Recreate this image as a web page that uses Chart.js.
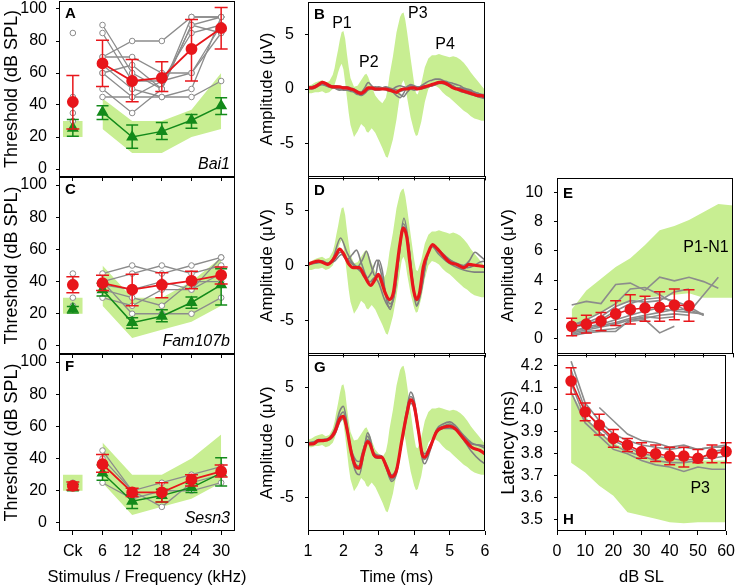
<!DOCTYPE html>
<html><head><meta charset="utf-8">
<script src="https://cdn.jsdelivr.net/npm/chart.js@4.4.1/dist/chart.umd.min.js"></script>
<style>
html,body{margin:0;padding:0;background:#fff}
body{width:742px;height:587px;position:relative;overflow:hidden}
canvas{position:absolute}
</style></head><body>
<canvas id="pA"></canvas><canvas id="pC"></canvas><canvas id="pF"></canvas>
<canvas id="pB"></canvas><canvas id="pD"></canvas><canvas id="pG"></canvas>
<canvas id="pE"></canvas><canvas id="pH"></canvas>
<script>
// ================= DATA =================
// ---- Left column: thresholds (dB SPL) ----
const stimPos = [0, 6, 12, 18, 24, 30];
const stimLabels = ['Ck', '6', '12', '18', '24', '30'];
const toneKHz = [6, 12, 18, 24, 30];
const thrTicks = [0, 20, 40, 60, 80, 100];

// A  Bai1
const bai1NormHi = [44, 30, 30, 37, 60];
const bai1NormLo = [25, 10, 10, 20, 25];
const bai1NormCk = [20, 30];
const bai1MutCk = [85, 45, 40, 35, 30];
const bai1Mut = [
  [70, 80, 80, 95, 95],
  [90, 60, 50, 90, 95],
  [85, 55, 55, 60, 90],
  [70, 70, 60, 60, 85],
  [65, 50, 45, 50, 95],
  [60, 45, 55, 85, 90],
  [50, 35, 50, 95, 95],
  [45, 45, 45, 45, 55],
  [60, 65, 50, 90, 85]
];
const bai1MutMean = [42, 66, 55, 57, 75, 88];
const bai1MutHi = [58.5, 80.5, 68.5, 67, 93.5, 101];
const bai1MutLo = [25, 51.5, 42, 48.5, 55, 75];
const bai1CtlMean = [25.5, 35.5, 20, 23.5, 30.5, 39.5];
const bai1CtlHi = [31, 39.5, 27.5, 29, 34, 44.5];
const bai1CtlLo = [20.5, 31, 13, 18.5, 25.5, 34];

// C  Fam107b
const famNormHi = [50, 30, 30, 40, 55];
const famNormLo = [25, 5, 10, 15, 25];
const famNormCk = [20, 30];
const famMutCk = [45, 40, 30, 25];
const famMut = [
  [45, 50, 45, 50, 55],
  [40, 45, 50, 45, 50],
  [38, 35, 40, 35, 45],
  [35, 30, 25, 40, 40],
  [30, 25, 35, 35, 55],
  [40, 20, 20, 20, 30]
];
const famMutMean = [38, 39, 35, 38, 40.5, 44];
const famMutHi = [43, 44, 44.5, 45.5, 46.5, 49];
const famMutLo = [33, 34.5, 25, 30, 35.5, 38.5];
const famCtlMean = [23, 35, 14.5, 18.5, 27, 38];
const famCtlHi = [24.5, 39, 17.5, 22.5, 30.5, 48];
const famCtlLo = [20.5, 31, 11, 15, 23.5, 25.5];

// F  Sesn3
const sesNormHi = [50, 30, 30, 40, 55];
const sesNormLo = [25, 5, 10, 15, 25];
const sesNormCk = [20, 30];
const sesMutCk = [25, 22];
const sesMut = [
  [45, 20, 25, 30, 35],
  [40, 20, 10, 25, 30],
  [25, 15, 20, 20, 25]
];
const sesMutMean = [23, 36.5, 19, 19, 27, 32];
const sesMutHi = [25.5, 42.5, 21.5, 25, 30, 36];
const sesMutLo = [20.5, 31.5, 16.5, 13, 23, 28.5];
const sesCtlMean = [22, 31, 13.5, 17, 22, 31];
const sesCtlHi = [24, 36, 17.5, 21, 24.5, 40.5];
const sesCtlLo = [20, 26.5, 9, 13, 19, 23];

// ---- Middle column: ABR waveforms (uV vs ms) ----
const timeTicks = [1, 2, 3, 4, 5, 6];
const ampTicks = [-5, 0, 5];
const bandT = [1.0,1.1,1.2,1.3,1.4,1.5,1.6,1.7,1.75,1.8,1.85,1.9,1.95,2.0,2.05,2.1,2.15,2.2,2.3,2.4,2.5,2.6,2.65,2.7,2.8,2.9,3.0,3.1,3.2,3.25,3.3,3.4,3.5,3.6,3.65,3.7,3.75,3.8,3.9,4.0,4.05,4.1,4.2,4.3,4.4,4.5,4.6,4.7,4.8,4.9,5.0,5.1,5.2,5.3,5.4,5.5,5.6,5.7,5.8,5.9,6.0];
const bandHi = [0.3,0.4,0.6,0.7,0.8,0.6,0.7,1.3,1.9,2.8,3.6,4.5,5.2,5.3,4.6,3.2,2.0,1.0,0.2,0.3,0.8,1.3,1.4,1.1,0.2,-0.6,-1.0,-1.3,-0.8,0.0,1.2,3.0,5.2,6.6,6.9,7.0,6.3,5.2,2.8,0.5,-0.4,-0.5,0.5,2.0,2.8,3.1,3.1,3.2,3.1,3.0,2.9,3.0,2.9,2.7,2.4,2.0,1.5,1.1,0.7,0.3,-0.1];
const bandLo = [-0.4,-0.4,-0.3,-0.3,-0.2,-0.4,-0.3,0.0,0.4,0.9,1.5,2.0,2.3,1.8,0.6,-0.8,-2.2,-3.3,-4.4,-3.9,-3.2,-3.5,-3.9,-4.0,-3.6,-4.0,-4.7,-5.4,-6.2,-6.3,-5.8,-4.6,-2.8,-0.5,0.5,0.8,0.3,-0.8,-2.6,-3.9,-4.3,-4.2,-3.0,-1.2,0.0,0.4,0.3,0.1,-0.3,-0.6,-0.8,-1.1,-1.4,-1.7,-2.0,-2.2,-2.5,-2.7,-2.8,-2.9,-2.9];

// B  Bai1 waveforms
const bT = [1.0,1.1,1.2,1.3,1.4,1.5,1.6,1.7,1.8,1.9,2.0,2.1,2.2,2.3,2.4,2.5,2.6,2.7,2.8,2.9,3.0,3.1,3.2,3.3,3.4,3.5,3.6,3.7,3.8,3.9,4.0,4.1,4.2,4.3,4.4,4.5,4.6,4.7,4.8,4.9,5.0,5.1,5.2,5.3,5.4,5.5,5.6,5.7,5.8,5.9,6.0];
const bMean = [0.1,0.1,0.2,0.4,0.6,0.5,0.3,0.2,0.2,0.2,0.1,0.1,0.0,-0.1,-0.3,-0.4,-0.2,0.1,0.1,0.0,0.0,0.0,0.0,-0.1,-0.2,-0.3,-0.1,0.0,0.0,0.1,0.1,0.0,0.1,0.2,0.3,0.4,0.5,0.6,0.6,0.5,0.3,0.1,0.0,-0.1,-0.2,-0.3,-0.4,-0.5,-0.6,-0.6,-0.7];
const bInd1 = [0.2,0.2,0.3,0.5,0.6,0.4,0.3,0.2,0.0,-0.1,0.0,0.1,0.0,-0.2,-0.3,-0.3,0.1,0.6,0.3,0.0,-0.1,0.0,0.1,0.0,-0.3,-0.6,-0.8,-0.4,0.2,0.3,0.2,0.1,0.3,0.5,0.7,0.8,0.9,0.9,0.8,0.6,0.4,0.3,0.1,0.0,-0.1,-0.2,-0.4,-0.5,-0.6,-0.7,-0.8];
const bInd2 = [0.0,0.1,0.2,0.4,0.5,0.4,0.2,0.1,0.1,0.0,-0.1,-0.1,-0.2,-0.3,-0.5,-0.5,-0.3,0.0,0.1,0.2,0.1,0.0,-0.1,-0.2,0.0,0.2,0.3,0.2,0.1,0.0,-0.1,0.0,0.1,0.1,0.2,0.3,0.4,0.5,0.5,0.6,0.6,0.5,0.4,0.3,0.1,0.0,-0.1,-0.3,-0.4,-0.5,-0.6];
const bInd3 = [0.1,0.0,0.1,0.3,0.4,0.3,0.2,0.3,0.3,0.2,0.1,0.0,-0.1,-0.2,-0.4,-0.6,-0.4,-0.1,0.0,0.1,0.2,0.1,0.0,0.0,-0.1,-0.3,-0.5,-0.7,-0.3,0.0,0.1,0.0,0.0,0.1,0.2,0.3,0.4,0.6,0.7,0.7,0.5,0.2,0.0,-0.2,-0.3,-0.4,-0.5,-0.6,-0.7,-0.8,-0.9];
const bInd4 = [0.1,0.2,0.3,0.4,0.5,0.5,0.4,0.2,0.1,0.1,0.2,0.2,0.1,0.0,-0.2,-0.3,-0.2,0.0,0.0,-0.1,-0.1,0.1,0.2,0.1,0.0,-0.1,-0.2,-0.1,0.2,0.4,0.3,0.2,0.2,0.3,0.3,0.4,0.5,0.6,0.5,0.4,0.3,0.2,0.1,0.1,0.0,-0.1,-0.2,-0.3,-0.4,-0.5,-0.5];

// D  Fam107b waveforms
const dT = [1.0,1.15,1.3,1.4,1.55,1.7,1.8,1.89,2.0,2.14,2.28,2.45,2.6,2.77,2.89,2.99,3.08,3.18,3.3,3.41,3.5,3.6,3.69,3.79,3.88,3.98,4.07,4.15,4.26,4.4,4.52,4.63,4.82,5.0,5.2,5.4,5.55,5.75,6.0];
const dMean = [0.1,0.3,0.4,0.3,0.1,0.5,1.0,1.5,1.1,0.2,-0.2,-0.2,-1.0,-1.8,-1.3,-0.8,-1.5,-2.5,-3.1,-2.5,-0.4,2.0,3.4,2.6,0.2,-2.2,-3.1,-2.5,-0.1,1.2,1.9,1.6,0.9,0.3,0.1,-0.2,0.1,0.0,-0.1];
const dInd1T = [1.0,1.2,1.4,1.55,1.7,1.92,2.1,2.25,2.4,2.55,2.65,2.78,2.9,3.0,3.1,3.2,3.32,3.45,3.58,3.71,3.85,3.95,4.07,4.2,4.35,4.52,4.7,4.85,5.0,5.2,5.4,5.55,5.72,5.85,6.0];
const dInd1 = [0.2,0.3,0.4,0.2,0.6,2.5,1.2,0.3,-0.1,0.6,1.3,0.0,-1.0,0.5,-0.5,-2.8,-4.0,-2.2,1.5,4.3,1.8,-1.2,-3.6,-2.2,0.6,1.9,1.3,0.8,0.5,0.2,0.0,0.4,1.2,0.9,0.5];
const dInd2T = [1.0,1.2,1.4,1.6,1.75,1.95,2.1,2.25,2.37,2.5,2.62,2.75,2.88,3.0,3.15,3.3,3.45,3.58,3.7,3.85,3.95,4.07,4.2,4.35,4.5,4.7,4.9,5.1,5.3,5.5,5.7,5.85,6.0];
const dInd2 = [0.1,0.2,0.3,0.2,0.4,1.0,0.5,1.0,1.4,0.3,-0.8,-1.5,-1.1,-1.6,-3.0,-3.8,-2.5,1.2,3.8,1.6,-1.6,-3.7,-2.3,0.5,1.7,1.0,0.4,0.0,-0.3,-0.5,-0.6,-0.6,-0.6];
const dInd3T = [1.0,1.2,1.4,1.55,1.7,1.92,2.1,2.3,2.5,2.65,2.8,2.95,3.05,3.2,3.32,3.45,3.58,3.7,3.85,3.95,4.07,4.2,4.35,4.52,4.7,4.9,5.1,5.3,5.5,5.7,5.85,6.0];
const dInd3 = [0.2,0.3,0.4,0.2,0.4,1.2,0.6,0.0,-0.6,-1.2,-0.6,0.5,-0.5,-2.6,-3.5,-2.4,1.0,3.5,1.6,-1.3,-3.2,-2.0,0.6,1.8,1.4,0.8,0.3,0.0,-0.2,0.0,0.3,0.4];

// G  Sesn3 waveforms
const gT = [1.0,1.15,1.29,1.43,1.62,1.76,1.9,2.0,2.09,2.23,2.36,2.45,2.56,2.68,2.75,2.86,2.96,3.08,3.22,3.36,3.5,3.65,3.79,3.9,3.99,4.12,4.23,4.3,4.45,4.63,4.82,5.01,5.15,5.39,5.62,5.86,6.0];
const gMean = [-0.1,-0.1,0.2,0.2,0.4,1.0,2.2,2.4,1.4,-1.0,-2.2,-2.3,-1.0,0.1,-0.1,-1.1,-1.3,-1.3,-2.2,-3.1,-2.5,0.2,2.6,3.9,3.5,1.1,-1.1,-1.3,-0.4,1.0,1.4,1.5,1.3,0.4,-0.4,-0.7,-1.0];
const gInd1 = [0.0,0.0,0.3,0.3,0.5,1.3,2.9,3.3,2.0,-1.2,-2.7,-2.9,-1.3,0.9,0.5,-1.0,-1.2,-1.2,-2.4,-3.5,-2.8,0.3,3.0,4.6,4.0,1.3,-1.5,-1.9,-0.7,1.2,1.7,1.9,1.6,0.7,0.0,-0.3,-0.5];
const gInd2 = [-0.2,-0.1,0.1,0.2,0.3,0.9,2.4,2.8,1.6,-0.9,-2.0,-2.1,-0.8,0.6,0.2,-1.2,-1.4,-1.4,-2.3,-3.3,-2.6,0.1,2.8,4.2,3.7,1.0,-1.2,-1.5,-0.5,1.1,1.5,1.7,1.4,0.3,-0.8,-1.6,-1.9];
const gInd3 = [0.0,0.1,0.2,0.3,0.4,0.8,1.9,2.2,1.3,-0.7,-1.6,-1.7,-0.6,0.3,0.0,-0.9,-1.1,-1.2,-2.0,-2.9,-2.3,0.0,2.3,3.6,3.2,0.9,-0.8,-1.0,-0.2,0.9,1.3,1.3,1.2,0.5,-0.1,-0.2,-0.3];

// ---- Right column: input/output functions vs dB SL ----
const slX = [5, 10, 15, 20, 25, 30, 35, 40, 45, 50, 55, 60];
const slTicks = [0, 10, 20, 30, 40, 50, 60];
// E  P1-N1 amplitude (uV)
const eTicks = [0, 2, 4, 6, 8, 10];
const eNormHi = [2.0, 3.3, 4.1, 4.9, 5.5, 6.4, 7.4, 7.7, 8.1, 8.65, 9.2, 9.1];
const eNormLo = [0.8, 1.3, 1.75, 2.3, 2.5, 2.8, 2.9, 3.0, 3.1, 2.8, 2.8, 2.8];
const eInd = [
  [2.3, 2.55, 2.4, 3.7, 3.8, 3.3, 4.2, 3.95, 4.2, 3.9, 3.45],
  [0.9, 1.3, 1.8, 2.4, 3.4, 3.5, 3.0, 2.4, 1.8, 3.0, 4.2],
  [0.7, 1.0, 1.3, 1.9, 2.4, 2.7, 2.8, 2.6, 2.2, 1.6],
  [0.5, 0.8, 1.0, 1.3, 1.6, 1.9, 2.1, 1.9, 1.8, 1.7],
  [0.4, 0.6, 0.8, 1.0, 1.3, 1.4, 1.6, 1.7, 1.6],
  [0.3, 0.5, 0.6, 0.7, 1.2, 1.3, 0.4, 0.85],
  [0.5, 0.7, 0.9, 1.1, 1.4, 1.6, 1.8, 2.0, 2.0, 1.6],
  [0.2, 0.4, 0.5, 0.5, 1.3, 1.5, 1.4, 1.5],
  [1.0, 1.1, 1.5, 2.2, 2.6, 2.5, 2.6, 3.2, 3.4]
];
const eMean = [0.85, 1.0, 1.2, 1.7, 2.0, 2.1, 2.15, 2.3, 2.25];
const eHi = [1.4, 1.6, 1.8, 2.6, 3.0, 2.9, 3.2, 3.4, 3.35];
const eLo = [0.2, 0.4, 0.55, 0.9, 1.0, 1.2, 1.2, 1.3, 1.2];
// H  P3 latency (ms)
const hTicks = [3.5, 3.6, 3.7, 3.8, 3.9, 4.0, 4.1, 4.2];
const hNormHi = [4.08, 3.97, 3.9, 3.85, 3.82, 3.8, 3.79, 3.78, 3.77, 3.77, 3.77, 3.77];
const hNormLo = [3.76, 3.715, 3.655, 3.61, 3.535, 3.52, 3.505, 3.49, 3.485, 3.49, 3.49, 3.49];
const hInd = [
  [4.22, 4.03, 3.95, 3.89, 3.86, 3.84, 3.83, 3.82, 3.83, 3.82, 3.83, 3.84],
  [null, null, 4.01, 3.95, 3.89, 3.86, 3.85, 3.83, 3.84, 3.82, 3.83, 3.83],
  [4.08, 3.94, 3.88, 3.82, 3.80, 3.77, 3.75, 3.74, 3.72, 3.74, 3.73, 3.73],
  [4.18, 4.00, 3.92, 3.86, 3.83, 3.80, 3.79, 3.78, 3.77, 3.78, 3.78, 3.79],
  [4.12, 3.96, 3.90, 3.84, 3.81, 3.79, 3.77, 3.76, 3.76, 3.77, 3.81, 3.82]
];
const hMean = [4.13, 3.99, 3.93, 3.87, 3.84, 3.81, 3.80, 3.79, 3.79, 3.78, 3.80, 3.81];
const hHi = [4.19, 4.03, 3.98, 3.91, 3.87, 3.85, 3.84, 3.83, 3.83, 3.82, 3.84, 3.85];
const hLo = [4.07, 3.95, 3.885, 3.83, 3.81, 3.78, 3.765, 3.75, 3.74, 3.76, 3.76, 3.76];

// ================= STYLE / HELPERS =================
const RED = '#e8161b', GREEN = '#138a1a', GRAY = '#8c8c8c', WGRAY = '#808080', BAND = '#c8ee92';
const FONT = "'Liberation Sans', Arial, Helvetica, sans-serif";
Chart.defaults.font.family = FONT;
Chart.defaults.font.size = 16;
Chart.defaults.color = '#000';
const ckBoxX = [-2, 2];

const pts = (xs, ys) => xs.map((x, i) => ({ x, y: ys[i] }));

const framePlugin = { id: 'frame', afterDraw(c) {
  const a = c.chartArea, x = c.ctx;
  x.save(); x.strokeStyle = '#000'; x.lineWidth = 1;
  x.strokeRect(Math.round(a.left) + 0.5, Math.round(a.top) + 0.5, Math.round(a.right - a.left) - 1, Math.round(a.bottom - a.top) - 1);
  x.restore();
}};
const errPlugin = { id: 'errbars', beforeDatasetDraw(c, args) {
  const ds = c.data.datasets[args.index];
  if (!ds.errHi) return;
  const x = c.ctx, sx = c.scales.x, sy = c.scales.y, cap = ds.cap || 6;
  x.save(); x.strokeStyle = ds.borderColor; x.lineWidth = ds.errWidth || 1.5;
  ds.data.forEach((p, i) => {
    if (ds.errHi[i] == null) return;
    const px = sx.getPixelForValue(p.x), y1 = sy.getPixelForValue(ds.errHi[i]), y2 = sy.getPixelForValue(ds.errLo[i]);
    x.beginPath();
    x.moveTo(px, y1); x.lineTo(px, y2);
    x.moveTo(px - cap, y1); x.lineTo(px + cap, y1);
    x.moveTo(px - cap, y2); x.lineTo(px + cap, y2);
    x.stroke();
  });
  x.restore();
}};
const notesPlugin = { id: 'notes', afterDraw(c, args, opts) {
  const x = c.ctx, a = c.chartArea;
  (opts.items || []).forEach(n => {
    let px, py;
    if (n.corner) {
      px = n.corner[1] === 'l' ? a.left : n.corner[1] === 'r' ? a.right : (a.left + a.right) / 2;
      py = n.corner[0] === 't' ? a.top : a.bottom;
      px += n.dx; py += n.dy;
    } else {
      px = c.scales.x.getPixelForValue(n.x);
      py = c.scales.y.getPixelForValue(n.y);
    }
    x.save(); x.font = n.font || ('16px ' + FONT); x.fillStyle = '#000';
    x.textAlign = n.align || 'center'; x.textBaseline = 'middle';
    x.fillText(n.text, px, py); x.restore();
  });
}};

function bandUp(data) { return { data, fill: '+1', backgroundColor: BAND, borderColor: 'rgba(0,0,0,0)', borderWidth: 0, pointRadius: 0, tension: 0, order: 10 }; }
function bandDn(data) { return { data, fill: false, borderColor: 'rgba(0,0,0,0)', borderWidth: 0, pointRadius: 0, tension: 0, order: 10 }; }

function makeChart(id, g, datasets, sc, notes) {
  const cv = document.getElementById(id);
  const W = g.yw + (g.pr - g.pl) + g.padR, H = g.padT + (g.pb - g.pt) + g.xh;
  cv.width = W; cv.height = H; cv.style.width = W + 'px'; cv.style.height = H + 'px';
  cv.style.left = (g.pl - g.yw) + 'px'; cv.style.top = (g.pt - g.padT) + 'px';
  return new Chart(cv, {
    type: 'line', data: { datasets },
    plugins: [errPlugin, framePlugin, notesPlugin],
    options: {
      responsive: false, animation: false, devicePixelRatio: 1, events: [],
      layout: { padding: { top: g.padT, right: g.padR, left: 0, bottom: 0 } },
      plugins: { legend: { display: false }, tooltip: { enabled: false }, colors: { enabled: false }, notes: { items: notes || [] } },
      scales: {
        x: { type: 'linear', min: sc.xmin, max: sc.xmax,
          afterFit(s) { s.height = g.xh; },
          afterBuildTicks(s) { s.ticks = sc.xticks.map(v => ({ value: v })); },
          ticks: { autoSkip: false, maxRotation: 0, minRotation: 0, padding: 7, callback: sc.xcb },
          grid: { drawOnChartArea: false, drawTicks: true, tickLength: 4, color: '#000', lineWidth: 1 },
          border: { display: false },
          title: { display: false } },
        y: { type: 'linear', min: sc.ymin, max: sc.ymax,
          afterFit(s) { s.width = g.yw; },
          afterBuildTicks(s) { s.ticks = sc.yticks.map(v => ({ value: v })); },
          ticks: { padding: sc.ypad, callback: sc.ycb || (v => String(v)) },
          grid: { drawOnChartArea: false, drawTicks: true, tickLength: 3, color: '#000', lineWidth: 1 },
          border: { display: false },
          title: { display: true, text: sc.ytitle, font: { size: sc.ytsize }, padding: { top: sc.ytpad, bottom: 0 } } }
      }
    }
  });
}

// ---------- builders ----------
function stimSets(p) {
  const sets = [];
  sets.push(bandUp(pts(toneKHz, p.normHi)), bandDn(pts(toneKHz, p.normLo)));
  sets.push(bandUp(pts(ckBoxX, [p.normCk[1], p.normCk[1]])), bandDn(pts(ckBoxX, [p.normCk[0], p.normCk[0]])));
  const grayPt = { borderColor: GRAY, borderWidth: 1.3, pointRadius: 2.8, pointBackgroundColor: '#fff', pointBorderColor: GRAY, pointBorderWidth: 1, tension: 0, order: 5 };
  p.mut.forEach(m => sets.push(Object.assign({ data: pts(toneKHz, m) }, grayPt)));
  sets.push(Object.assign({ data: p.mutCk.map(v => ({ x: stimPos[0], y: v })), showLine: false }, grayPt));
  const grn = { borderColor: GREEN, backgroundColor: GREEN, borderWidth: 1.5, pointStyle: 'triangle', pointRadius: 5.5, pointBackgroundColor: GREEN, pointBorderColor: GREEN, tension: 0, order: 2, cap: 6 };
  sets.push(Object.assign({ data: pts(toneKHz, p.ctlMean.slice(1)), errHi: p.ctlHi.slice(1), errLo: p.ctlLo.slice(1) }, grn));
  sets.push(Object.assign({ data: [{ x: stimPos[0], y: p.ctlMean[0] }], errHi: [p.ctlHi[0]], errLo: [p.ctlLo[0]], showLine: false }, grn));
  const red = { borderColor: RED, backgroundColor: RED, borderWidth: 1.8, pointStyle: 'circle', pointRadius: 5, pointBackgroundColor: RED, pointBorderColor: RED, tension: 0, order: 0, cap: 6.5 };
  sets.push(Object.assign({ data: pts(toneKHz, p.mutMean.slice(1)), errHi: p.mutHi.slice(1), errLo: p.mutLo.slice(1) }, red));
  sets.push(Object.assign({ data: [{ x: stimPos[0], y: p.mutMean[0] }], errHi: [p.mutHi[0]], errLo: [p.mutLo[0]], showLine: false }, red));
  return sets;
}
function waveSets(meanT, meanV, inds) {
  const sets = [bandUp(pts(bandT, bandHi)), bandDn(pts(bandT, bandLo))];
  inds.forEach(([t, v]) => sets.push({ data: pts(t, v), borderColor: WGRAY, borderWidth: 1.6, pointRadius: 0, cubicInterpolationMode: 'monotone', order: 5 }));
  sets.push({ data: pts(meanT, meanV), borderColor: RED, borderWidth: 3.2, pointRadius: 0, cubicInterpolationMode: 'monotone', order: 0 });
  return sets;
}
function ioSets(hi, lo, inds, mean, eh, el) {
  const sets = [bandUp(pts(slX, hi)), bandDn(pts(slX, lo))];
  inds.forEach(v => sets.push({ data: pts(slX.slice(0, v.length), v), borderColor: GRAY, borderWidth: 1.6, pointRadius: 0, tension: 0, order: 5 }));
  sets.push({ data: pts(slX.slice(0, mean.length), mean), errHi: eh, errLo: el, borderColor: RED, backgroundColor: RED, borderWidth: 1.6, pointRadius: 5, pointBackgroundColor: RED, pointBorderColor: RED, tension: 0, order: 0, cap: 5.5, clip: false });
  return sets;
}

// ---------- geometry ----------
const colL = { pl: 59, pr: 235, yw: 59, padR: 12, padT: 20 };
const colM = { pl: 308, pr: 485, yw: 56, padR: 12, padT: 20 };
const colR = { pl: 557, pr: 733, yw: 60, padR: 9, padT: 20 };
const row1 = { pt: 1, pb: 177, xh: 20 }, row2 = { pt: 177, pb: 354, xh: 20 }, row3 = { pt: 354, pb: 531, xh: 56 };
const G = (c, r) => Object.assign({}, c, r);

const stimLabel = v => stimLabels[stimPos.indexOf(v)];
const blank = () => '';
const scStim = (showX) => ({ xmin: -2.8, xmax: 32.8, xticks: stimPos, xcb: showX ? stimLabel : blank,
  ymin: -5, ymax: 105, yticks: thrTicks, ypad: 9, ytitle: 'Threshold (dB SPL)', ytsize: 18, ytpad: 1 });
const scWave = (showX) => ({ xmin: 1, xmax: 6, xticks: timeTicks, xcb: showX ? (v => String(v)) : blank,
  ymin: -8, ymax: 8, yticks: ampTicks, ypad: 11, ytitle: 'Amplitude (\u03bcV)', ytsize: 17, ytpad: 5 });

const letter = (t) => ({ text: t, corner: 'tl', dx: 6, dy: 13, align: 'left', font: 'bold 15px ' + FONT });
const xTitle = (t) => ({ text: t, corner: 'bc', dx: 0, dy: 46, align: 'center', font: '16.5px ' + FONT });

// ---------- charts ----------
makeChart('pA', G(colL, row1), stimSets({ normHi: bai1NormHi, normLo: bai1NormLo, normCk: bai1NormCk, mut: bai1Mut, mutCk: bai1MutCk,
  mutMean: bai1MutMean, mutHi: bai1MutHi, mutLo: bai1MutLo, ctlMean: bai1CtlMean, ctlHi: bai1CtlHi, ctlLo: bai1CtlLo }), scStim(false),
  [letter('A'), { text: 'Bai1', corner: 'br', dx: -5, dy: -12, align: 'right', font: 'italic 16px ' + FONT }]);
makeChart('pC', G(colL, row2), stimSets({ normHi: famNormHi, normLo: famNormLo, normCk: famNormCk, mut: famMut, mutCk: famMutCk,
  mutMean: famMutMean, mutHi: famMutHi, mutLo: famMutLo, ctlMean: famCtlMean, ctlHi: famCtlHi, ctlLo: famCtlLo }), scStim(false),
  [letter('C'), { text: 'Fam107b', corner: 'br', dx: -5, dy: -12, align: 'right', font: 'italic 16px ' + FONT }]);
makeChart('pF', G(colL, row3), stimSets({ normHi: sesNormHi, normLo: sesNormLo, normCk: sesNormCk, mut: sesMut, mutCk: sesMutCk,
  mutMean: sesMutMean, mutHi: sesMutHi, mutLo: sesMutLo, ctlMean: sesCtlMean, ctlHi: sesCtlHi, ctlLo: sesCtlLo }), scStim(true),
  [letter('F'), { text: 'Sesn3', corner: 'br', dx: -5, dy: -12, align: 'right', font: 'italic 16px ' + FONT }, xTitle('Stimulus / Frequency (kHz)')]);

makeChart('pB', G(colM, row1), waveSets(bT, bMean, [[bT, bInd1], [bT, bInd2], [bT, bInd3], [bT, bInd4]]), scWave(false),
  [letter('B'), { text: 'P1', x: 1.96, y: 6.0 }, { text: 'P2', x: 2.72, y: 2.4 }, { text: 'P3', x: 4.1, y: 6.9 }, { text: 'P4', x: 4.87, y: 4.1 }]);
makeChart('pD', G(colM, row2), waveSets(dT, dMean, [[dInd1T, dInd1], [dInd2T, dInd2], [dInd3T, dInd3]]), scWave(false), [letter('D')]);
makeChart('pG', G(colM, row3), waveSets(gT, gMean, [[gT, gInd1], [gT, gInd2], [gT, gInd3]]), scWave(true), [letter('G'), xTitle('Time (ms)')]);

makeChart('pE', G(colR, row2), ioSets(eNormHi, eNormLo, eInd, eMean, eHi, eLo),
  { xmin: 0, xmax: 60, xticks: slTicks, xcb: blank, ymin: -1, ymax: 11, yticks: eTicks, ypad: 11, ytitle: 'Amplitude (\u03bcV)', ytsize: 17, ytpad: 1 },
  [{ text: 'E', corner: 'tl', dx: 6, dy: 16, align: 'left', font: 'bold 15px ' + FONT }, { text: 'P1-N1', x: 50.8, y: 6.2 }]);
makeChart('pH', G(colR, row3), ioSets(hNormHi, hNormLo, hInd, hMean, hHi, hLo),
  { xmin: 0, xmax: 60, xticks: slTicks, xcb: v => String(v), ymin: 3.45, ymax: 4.25, yticks: hTicks, ypad: 11, ycb: v => v.toFixed(1), ytitle: 'Latency (ms)', ytsize: 18, ytpad: 1 },
  [{ text: 'H', corner: 'bl', dx: 6, dy: -11, align: 'left', font: 'bold 15px ' + FONT }, { text: 'P3', x: 50.8, y: 3.644 }, xTitle('dB SL')]);
</script>
</body></html>
